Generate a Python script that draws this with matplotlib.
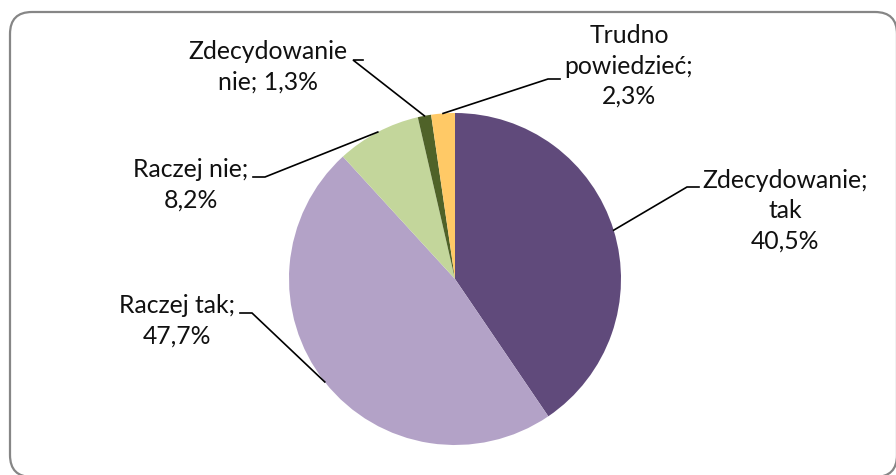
import matplotlib
matplotlib.use("Agg")
import matplotlib.pyplot as plt
from matplotlib.patches import FancyBboxPatch
import numpy as np

# ---- data ----
categories = ["Zdecydowanie;\ntak", "Raczej tak;", "Raczej nie;", "Zdecydowanie\nnie;", "Trudno\npowiedzieć;"]
values = [40.5, 47.7, 8.2, 1.3, 2.3]
value_sep = ["\n", "\n", "\n", " ", "\n"]
colors = ["#604A7B", "#B3A2C7", "#C3D69B", "#4F6228", "#FFC966"]

# label layout (pixel units, y measured from top)
label_xy = [(785, 211), (177, 321), (191, 185), (268, 67), (629, 66)]
elbow_xy = [(687, 187), (252, 313), (265, 177), (353, 60), (548, 79)]
hend_xy = [(699, 187), (240, 313), (253, 177), (363, 60), (560, 79)]

W, H = 896, 475
plt.rcParams['font.family'] = ['Lato', 'DejaVu Sans']

fig = plt.figure(figsize=(W / 100, H / 100), dpi=100)
ax = fig.add_axes([0, 0, 1, 1])

center = (455, H - 279)
radius = 166
wedges, _ = ax.pie(values, colors=colors, startangle=90, counterclock=False,
                   center=center, radius=radius, wedgeprops=dict(linewidth=0))

ax.set_xlim(0, W)
ax.set_ylim(0, H)
ax.set_aspect('auto')
ax.axis('off')

# frame
frame = FancyBboxPatch((10, H - 477), 887, 465, boxstyle="round,pad=0,rounding_size=22",
                       facecolor='none', edgecolor='#868686', linewidth=1.6, zorder=0)
ax.add_patch(frame)

for i, w in enumerate(wedges):
    ang = np.deg2rad((w.theta1 + w.theta2) / 2)
    ax_pt = (center[0] + radius * np.cos(ang), center[1] + radius * np.sin(ang))
    ex, ey = elbow_xy[i]
    hx, hy = hend_xy[i]
    ax.plot([ax_pt[0], ex, hx], [ax_pt[1], H - ey, H - hy], color='black', lw=1.2,
            solid_joinstyle='miter', zorder=3)
    txt = categories[i] + value_sep[i] + f"{values[i]:.1f}".replace('.', ',') + "%"
    lx, ly = label_xy[i]
    ax.text(lx, H - ly, txt, ha='center', va='center', multialignment='center',
            fontsize=17.8, color='#111111', linespacing=1.38)

fig.savefig("out.png", dpi=100)
